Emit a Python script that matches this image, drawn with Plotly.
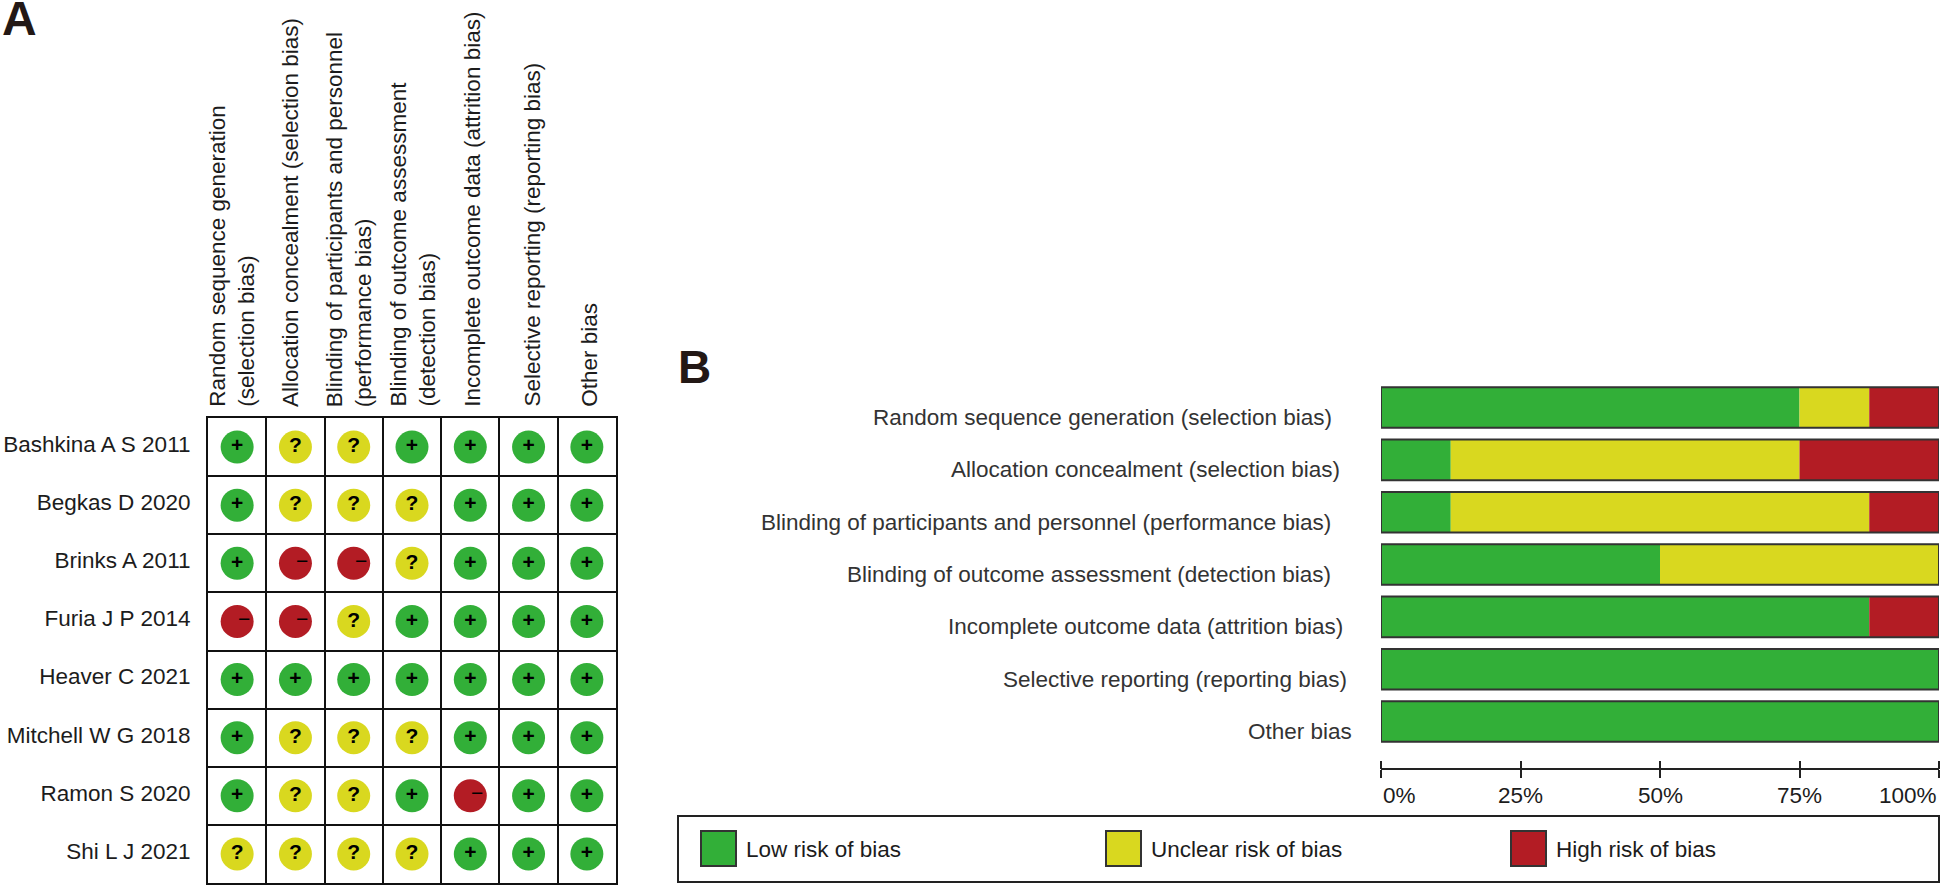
import plotly.graph_objects as go

W, H = 1943, 886

studies = ["Bashkina A S 2011", "Begkas D 2020", "Brinks A 2011", "Furia J P 2014",
           "Heaver C 2021", "Mitchell W G 2018", "Ramon S 2020", "Shi L J 2021"]
domains = ["Random sequence generation (selection bias)",
           "Allocation concealment (selection bias)",
           "Blinding of participants and personnel (performance bias)",
           "Blinding of outcome assessment (detection bias)",
           "Incomplete outcome data (attrition bias)",
           "Selective reporting (reporting bias)",
           "Other bias"]
domain_headers = ["Random sequence generation<br>(selection bias)",
                  "Allocation concealment (selection bias)",
                  "Blinding of participants and personnel<br>(performance bias)",
                  "Blinding of outcome assessment<br>(detection bias)",
                  "Incomplete outcome data (attrition bias)",
                  "Selective reporting (reporting bias)",
                  "Other bias"]
judgements = [
    ["+", "?", "?", "+", "+", "+", "+"],
    ["+", "?", "?", "?", "+", "+", "+"],
    ["+", "-", "-", "?", "+", "+", "+"],
    ["-", "-", "?", "+", "+", "+", "+"],
    ["+", "+", "+", "+", "+", "+", "+"],
    ["+", "?", "?", "?", "+", "+", "+"],
    ["+", "?", "?", "+", "-", "+", "+"],
    ["?", "?", "?", "?", "+", "+", "+"],
]
low_risk = [75, 12.5, 12.5, 50, 87.5, 100, 100]
unclear_risk = [12.5, 62.5, 75, 50, 0, 0, 0]
high_risk = [12.5, 25, 12.5, 0, 12.5, 0, 0]
pct_ticks = [0, 25, 50, 75, 100]
pct_labels = ["0%", "25%", "50%", "75%", "100%"]
legend_names = ["Low risk of bias", "Unclear risk of bias", "High risk of bias"]

GREEN, YELLOW, RED = "#32AF38", "#D9D81F", "#B31C24"
COL = {"+": GREEN, "?": YELLOW, "-": RED}
INK = "#1c1c1c"
FONT = "Liberation Sans"


def px(x):
    return x / W


def py(y):
    return 1 - y / H


fig = go.Figure()

# Panel A: one scatter trace per judgement
for sym, colour in COL.items():
    xs, ys = [], []
    for s, row in zip(studies, judgements):
        for d, j in zip(domains, row):
            if j == sym:
                xs.append(d)
                ys.append(s)
    fig.add_trace(go.Scatter(
        x=xs, y=ys, xaxis="x", yaxis="y", showlegend=False,
        mode="markers+text" if sym != "-" else "markers",
        text=[sym] * len(xs) if sym != "-" else None,
        textposition="middle center",
        textfont=dict(family=FONT, size=21, color="#000000", weight="bold"),
        marker=dict(symbol="circle", size=33, color=colour, line=dict(width=0)),
    ))

# Panel B: segments, laid over each other from an explicit base
starts_unclear = list(low_risk)
starts_high = [a + b for a, b in zip(low_risk, unclear_risk)]
totals = [a + b + c for a, b, c in zip(low_risk, unclear_risk, high_risk)]
for name, vals, base, colour in [
    (legend_names[0], low_risk, [0] * 7, GREEN),
    (legend_names[1], unclear_risk, starts_unclear, YELLOW),
    (legend_names[2], high_risk, starts_high, RED),
]:
    fig.add_trace(go.Bar(
        x=vals, base=base, y=domains, orientation="h", xaxis="x2", yaxis="y2",
        name=name, showlegend=False, width=0.775,
        marker=dict(color=colour, line=dict(width=0)),
    ))
fig.add_trace(go.Bar(
    x=totals, base=[0] * 7, y=domains, orientation="h", xaxis="x3", yaxis="y2",
    showlegend=False, width=0.775, hoverinfo="skip",
    marker=dict(color="rgba(0,0,0,0)", line=dict(width=2, color="#333333")),
))

ann = []
# Column headings
header_shift = [-6, -5, -5, 0, 2, 3, 2]
for d, h, dx in zip(domains, domain_headers, header_shift):
    ann.append(dict(x=d, xref="x", y=py(409), yref="paper", text=h, textangle=-90,
                    xanchor="center", yanchor="bottom", align="left", xshift=dx,
                    showarrow=False, font=dict(family=FONT, size=22.5, color=INK)))
# Minus signs sit off-centre in the source
for s, row in zip(studies, judgements):
    for d, j in zip(domains, row):
        if j == "-":
            ann.append(dict(x=d, xref="x", y=s, yref="y", text="\u2212", xshift=7, yshift=3,
                            showarrow=False, font=dict(family=FONT, size=21, color="#000000")))
# Row labels of panel B
right_edges = [1334, 1342, 1333, 1333, 1345, 1349, 1354]
for d, r in zip(domains, right_edges):
    ann.append(dict(x=px(r), xref="paper", y=d, yref="y2", text=d, xanchor="right",
                    yshift=-10, showarrow=False, font=dict(family=FONT, size=22.5, color="#333333")))
# Percent labels
for t, l, a in zip(pct_ticks, pct_labels, ["left", "center", "center", "center", "right"]):
    ann.append(dict(x=t, xref="x2", y=py(795), yref="paper", text=l, xanchor=a, yanchor="middle",
                    showarrow=False, font=dict(family=FONT, size=22.5, color=INK)))
# Panel letters
ann.append(dict(x=px(0), xref="paper", y=py(18), yref="paper", text="A", xanchor="left", yanchor="middle",
                showarrow=False, font=dict(family=FONT, size=48, color="#231815", weight="bold")))
ann.append(dict(x=px(676), xref="paper", y=py(367), yref="paper", text="B", xanchor="left", yanchor="middle",
                showarrow=False, font=dict(family=FONT, size=46, color="#231815", weight="bold")))

# Legend box
shapes = [dict(type="rect", xref="paper", yref="paper", x0=px(678), x1=px(1939), y0=py(882), y1=py(816),
               line=dict(color="#222222", width=2), fillcolor="rgba(0,0,0,0)")]
for name, colour, left in zip(legend_names, [GREEN, YELLOW, RED], [701, 1106, 1511]):
    shapes.append(dict(type="rect", xref="paper", yref="paper", x0=px(left), x1=px(left + 35),
                       y0=py(866), y1=py(831), line=dict(color="#333333", width=2), fillcolor=colour))
    ann.append(dict(x=px(left + 43), xref="paper", y=py(849), yref="paper", text=name, xanchor="left",
                    yanchor="middle", showarrow=False, font=dict(family=FONT, size=22.5, color=INK)))

axis_font = dict(family=FONT, size=22.5, color=INK)
fig.update_layout(
    width=W, height=H, margin=dict(l=0, r=0, t=0, b=0), autosize=False,
    paper_bgcolor="#ffffff", plot_bgcolor="#ffffff",
    barmode="overlay", showlegend=False, annotations=ann, shapes=shapes,
    font=dict(family=FONT),
    xaxis=dict(domain=[px(208), px(616)], anchor="y", type="category",
               categoryorder="array", categoryarray=domains, tickson="boundaries",
               range=[-0.5, 6.5], showgrid=True, gridcolor="#111111", gridwidth=2,
               showline=True, linecolor="#111111", linewidth=2, mirror=True,
               ticks="", showticklabels=False, zeroline=False, fixedrange=True),
    yaxis=dict(domain=[py(883), py(418)], anchor="x", type="category",
               categoryorder="array", categoryarray=studies, tickson="boundaries",
               range=[7.5, -0.5], showgrid=True, gridcolor="#111111", gridwidth=2,
               showline=True, linecolor="#111111", linewidth=2, mirror=True,
               ticks="", tickfont=axis_font, ticklabelstandoff=11, ticklabelshift=3,
               zeroline=False, fixedrange=True),
    xaxis2=dict(domain=[px(1381), px(1939)], anchor="free", position=py(769), range=[0, 100],
                tickvals=pct_ticks, ticktext=[""] * 5, ticks="outside", ticklen=8, tickwidth=2,
                tickcolor="#222222", showline=True, linecolor="#222222", linewidth=2,
                showgrid=False, zeroline=False, fixedrange=True),
    xaxis3=dict(domain=[px(1381), px(1939)], anchor="free", position=py(769), range=[0, 100],
                overlaying="x2", side="top", tickvals=pct_ticks, ticktext=[""] * 5, ticks="outside",
                ticklen=8, tickwidth=2, tickcolor="#222222", showline=False,
                showgrid=False, zeroline=False, fixedrange=True),
    yaxis2=dict(domain=[py(747.7), py(381.4)], anchor="x2", type="category",
                categoryorder="array", categoryarray=domains, range=[6.5, -0.5],
                showticklabels=False, ticks="", showgrid=False, showline=False,
                zeroline=False, fixedrange=True),
)

fig.write_html("out.html", post_script="document.body.style.margin='0';", config={"displayModeBar": False})
